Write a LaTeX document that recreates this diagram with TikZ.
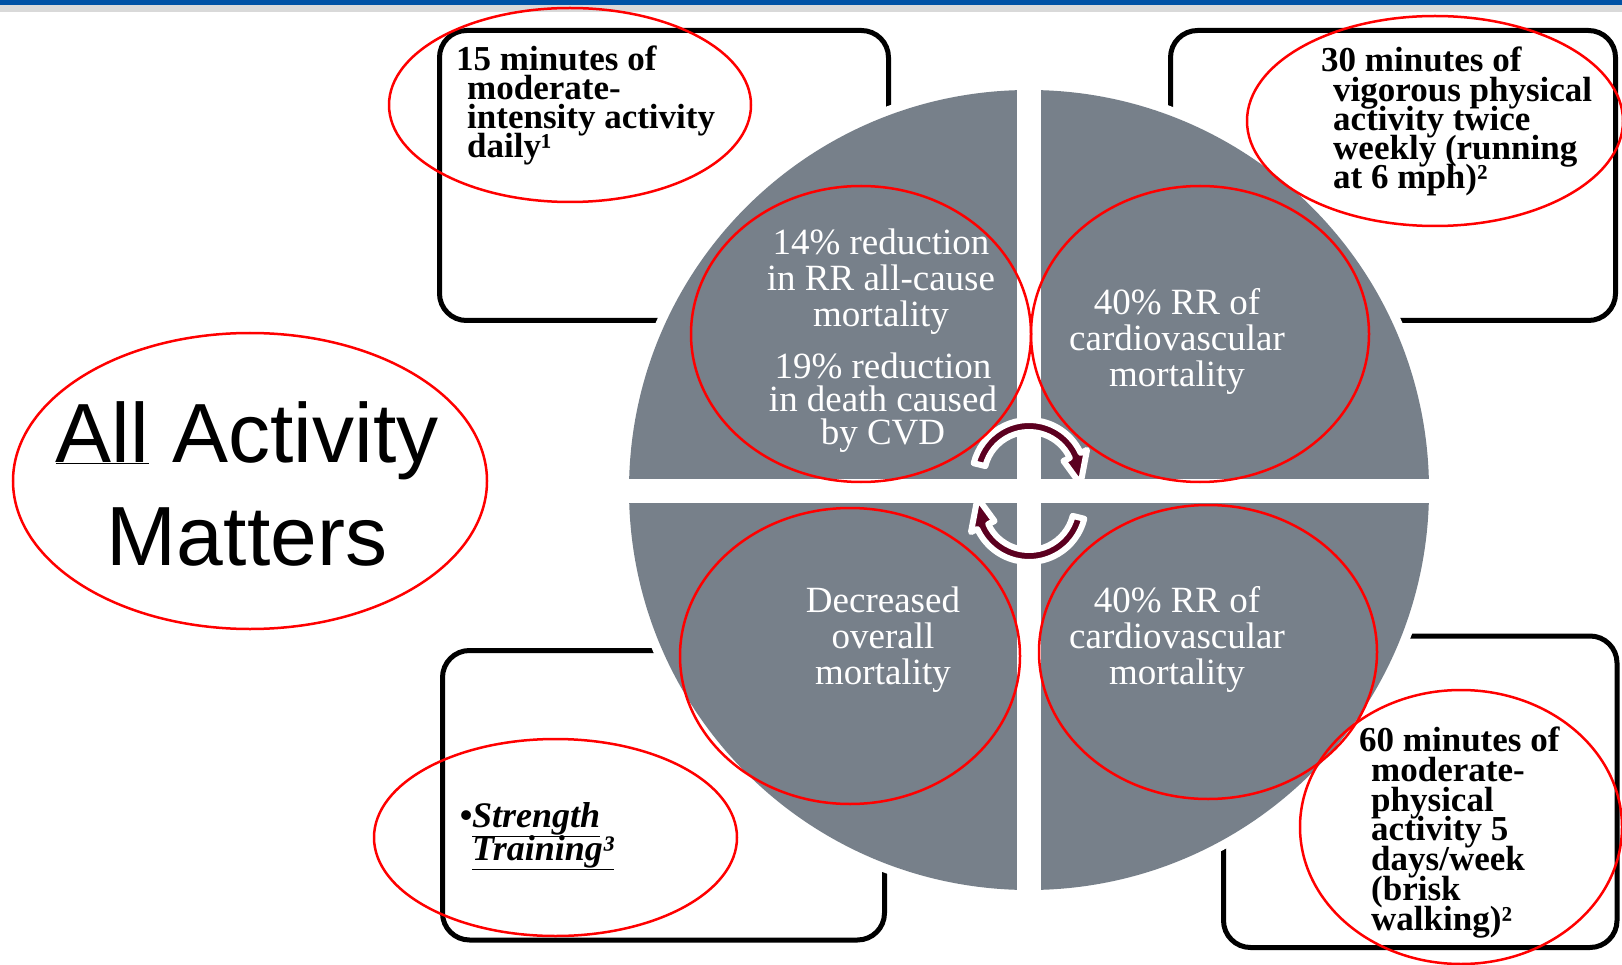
\documentclass[tikz,border=0pt]{standalone}
\usepackage{fontspec}
\setmainfont{Liberation Serif}
\newfontfamily\titlefont{Liberation Sans}
\definecolor{quadgray}{RGB}{119,128,138}
\definecolor{cyclemaroon}{RGB}{92,0,32}
\definecolor{barblue}{RGB}{0,82,165}
\definecolor{bargray}{RGB}{217,217,217}
\definecolor{ringred}{RGB}{255,0,0}
% fixed line pitch regardless of ascenders and descenders
\newcommand{\tightlines}{\lineskiplimit=-100pt\relax}
\begin{document}
\begin{tikzpicture}[x=1pt,y=-1pt,
  framebox/.style={draw=black, line width=5pt, rounded corners=27pt},
  boxtext/.style={align=left, inner sep=0pt, anchor=base west,
    font=\bfseries\fontsize{35}{29.3}\selectfont\tightlines},
  quadtext/.style={align=center, inner sep=0pt, anchor=base, text=white,
    font=\fontsize{37}{36}\selectfont\tightlines},
  ring/.style={draw=ringred, line width=2.5pt},
  cyclearrow/.style={fill=cyclemaroon, draw=white, line width=6pt, line join=round}]

% page and header bars
\useasboundingbox (0,0) rectangle (1622,965);
\fill[white] (0,0) rectangle (1622,965);
\fill[barblue] (0,0) rectangle (1622,5);
\fill[bargray] (0,5) rectangle (1622,12);

% outer frames
\draw[framebox] (439.5,30.5) rectangle (888.5,320.5);
\draw[framebox] (1170.5,30.5) rectangle (1615.5,320.5);
\draw[framebox] (442.5,650.5) rectangle (884.5,940);
\draw[framebox] (1223.5,636) rectangle (1617,947.5);

% central disc split into four quadrants
\fill[white] (1029,490) circle[radius=409];
\fill[quadgray] (1029,490) circle[radius=400];
\fill[white] (1017,80) rectangle (1041,900);
\fill[white] (615,479) rectangle (1445,503);

% frame texts (multi-line nodes are anchored at the last baseline)
\node[boxtext] (tltext) at (467,158)
  {\hspace*{-11pt}15 minutes of\\moderate-\\intensity activity\\daily¹};
\node[boxtext] (trtext) at (1333,189)
  {\hspace*{-12pt}30 minutes of\\vigorous physical\\activity twice\\weekly (running\\at 6 mph)²};
\node[boxtext, font=\bfseries\fontsize{35}{29.7}\selectfont\tightlines] (brtext) at (1371,930)
  {\hspace*{-12pt}60 minutes of\\moderate-\\physical\\activity 5\\days/week\\(brisk\\walking)²};
\node[boxtext, font=\bfseries\itshape\fontsize{36}{33}\selectfont\tightlines] (bltext) at (472,860)
  {\llap{\textbullet}\underline{Strength}\\\underline{Training³}};

% cycle arrows
\begin{scope}[shift={(1029,477)}]
  \filldraw[cyclearrow] (194:57) arc[start angle=194, end angle=335, radius=57]
    -- (335:64) -- (8:52) -- (335:38) -- (335:45)
    arc[start angle=335, end angle=194, radius=45] -- cycle;
\end{scope}
\begin{scope}[shift={(1029,505)}, rotate=180]
  \filldraw[cyclearrow] (194:57) arc[start angle=194, end angle=335, radius=57]
    -- (335:64) -- (8:52) -- (335:38) -- (335:45)
    arc[start angle=335, end angle=194, radius=45] -- cycle;
\end{scope}

% quadrant texts
\node[quadtext] (q1a) at (881,327) {14\% reduction\\in RR all-cause\\mortality};
\node[quadtext, font=\fontsize{37}{33}\selectfont\tightlines] (q1b) at (883,444)
  {19\% reduction\\in death caused\\by CVD};
\node[quadtext] (q2) at (1177,387) {40\% RR of\\cardiovascular\\mortality};
\node[quadtext] (q3) at (883,684) {Decreased\\overall\\mortality};
\node[quadtext] (q4) at (1177,684) {40\% RR of\\cardiovascular\\mortality};

% title
\node[font=\titlefont\fontsize{84}{103}\selectfont\tightlines, align=center, inner sep=0pt,
  anchor=base] (title) at (247,565) {\underline{All} Activity\\Matters};

% red rings
\draw[ring] (570,105) ellipse[x radius=181, y radius=97];
\draw[ring] (1435,121) ellipse[x radius=188, y radius=105];
\draw[ring] (250,481) ellipse[x radius=237, y radius=148];
\draw[ring] (861,334) ellipse[x radius=170, y radius=148];
\draw[ring] (1200,334) ellipse[x radius=169, y radius=148];
\draw[ring] (850,656) ellipse[x radius=170, y radius=148];
\draw[ring] (1208,652) ellipse[x radius=169, y radius=147];
\draw[ring] (555.5,837.5) ellipse[x radius=181.5, y radius=98.5];
\draw[ring] (1461,827) ellipse[x radius=161, y radius=137];
\end{tikzpicture}
\end{document}
